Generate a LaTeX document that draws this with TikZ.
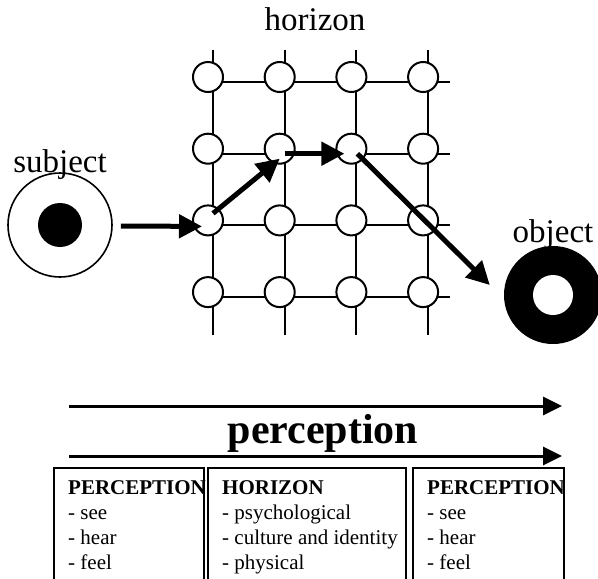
\documentclass[tikz,border=0pt]{standalone}
\usepackage{fontspec}
\setmainfont{Liberation Serif}
\usetikzlibrary{arrows.meta}

\begin{document}
\begin{tikzpicture}[x=1pt, y=-1pt,
    gridline/.style={line width=2pt},
    spot/.style={circle, draw, line width=2pt, fill=white, minimum size=30pt, inner sep=0pt},
    bigarrow/.style={line width=5pt, -{Triangle[length=23pt, width=23pt]}},
    timearrow/.style={line width=3pt, -{Triangle[length=19pt, width=18pt]}},
    word/.style={font=\fontsize{33}{40}\selectfont, anchor=base, inner sep=0pt},
    listbox/.style={line width=1.8pt},
    listtext/.style={font=\fontsize{21}{25}\selectfont, align=left, anchor=north west, inner sep=0pt}]
    \useasboundingbox (0,0) rectangle (598,579);
    \clip (0,0) rectangle (598,579);

    % Draw the grid
    \foreach \i in {0,...,3} {
        \draw[gridline] ({213+71.7*\i},50) -- ({213+71.7*\i},335);
        \draw[gridline] (213,{82+71.7*\i}) -- (450,{82+71.7*\i});
    }
    \foreach \r in {1,...,4}
        \foreach \c in {1,...,4}
            \node[spot] (n\r\c) at ({208+71.7*(\c-1)},{77+71.7*(\r-1)}) {};
    \node[word] (horizonlabel) at (315,30) {horizon};

    % Subject and object
    \node[circle, draw, line width=1.6pt, minimum size=104pt, inner sep=0pt] (subject) at (60,225) {};
    \node[circle, fill=black, minimum size=44pt, inner sep=0pt] (subjectcore) at (subject) {};
    \node[word] (subjectlabel) at (60,172) {subject};
    \node[circle, fill=black, minimum size=98pt, inner sep=0pt] (object) at (553,295) {};
    \node[circle, fill=white, minimum size=40pt, inner sep=0pt] (objectcore) at (object) {};
    \node[word] (objectlabel) at (553,242) {object};

    % Path through the horizon
    \draw[bigarrow] ([xshift=8pt, yshift=-1pt]subject.east) -- ([shift={(-6pt,-6pt)}]n31.center);
    \draw[bigarrow] ([shift={(5pt,7pt)}]n31.center) -- ([yshift=-10pt]n22.center);
    \draw[bigarrow] ([shift={(5pt,-5pt)}]n22.center) -- ([shift={(-7pt,-5pt)}]n23.center);
    \draw[bigarrow] ([shift={(6pt,-5pt)}]n23.center) -- ([shift={(-14pt,10pt)}]object.west);

    % Perception arrows
    \coordinate (topstart) at (69,406);
    \coordinate (topend) at (562,406);
    \draw[timearrow] (topstart) -- (topend);
    \node[font=\bfseries\fontsize{42}{50}\selectfont, anchor=base, inner sep=0pt] (perception) at (323,443) {perception};
    \coordinate (lowstart) at (69,456);
    \coordinate (lowend) at (562,456);
    \draw[timearrow] (lowstart) -- (lowend);

    % Lists
    \draw[listbox] (54,468) rectangle (204,600);
    \draw[listbox] (208,468) rectangle (406,600);
    \draw[listbox] (413,468) rectangle (564,600);
    \node[listtext] (leftlist) at (68,480) {\textbf{PERCEPTION}\\- see\\- hear\\- feel};
    \node[listtext] (midlist) at (222,480) {\textbf{HORIZON}\\- psychological\\- culture and identity\\- physical};
    \node[listtext] (rightlist) at (427,480) {\textbf{PERCEPTION}\\- see\\- hear\\- feel};
\end{tikzpicture}
\end{document}
